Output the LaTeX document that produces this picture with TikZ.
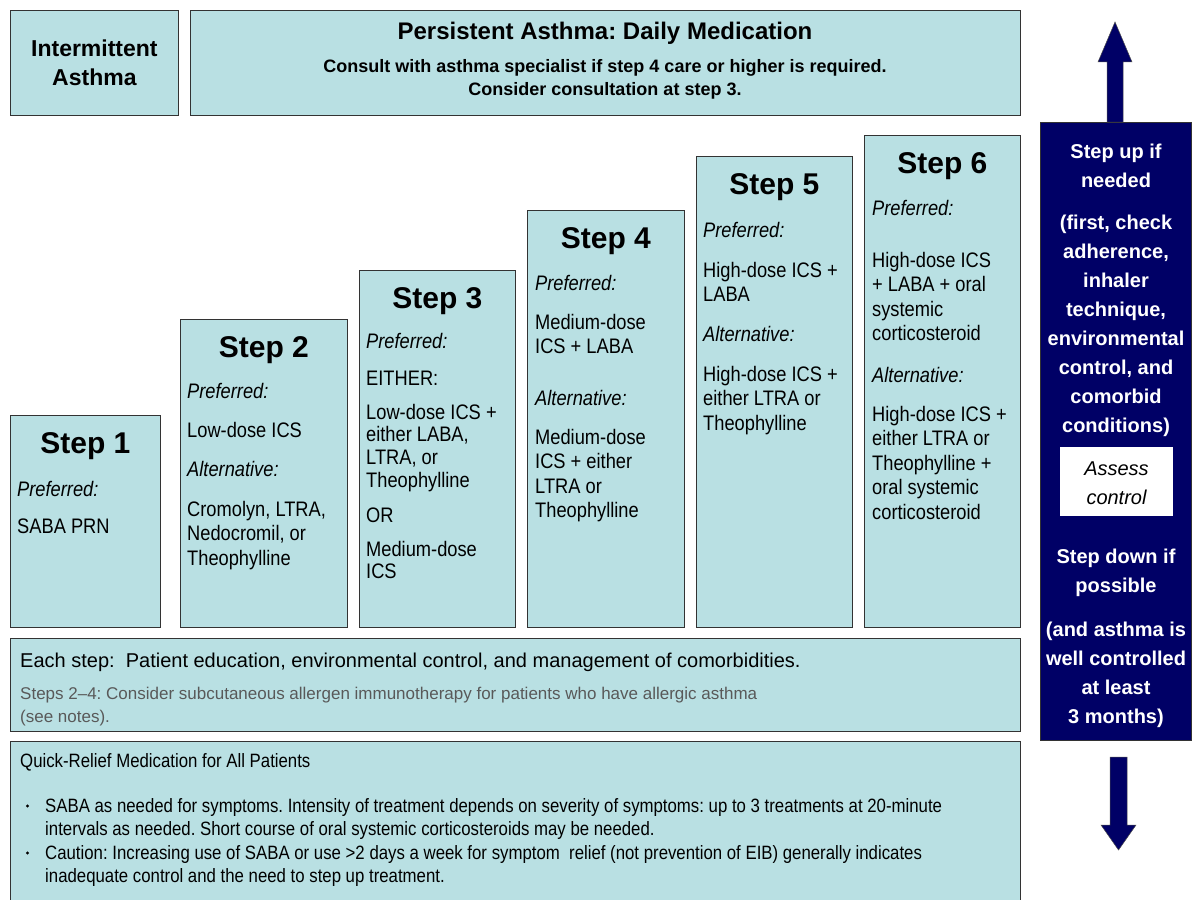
\documentclass[tikz,border=0pt]{standalone}
\usepackage{fontspec}
\setmainfont{Liberation Sans}
\newfontfamily\narrow[FakeStretch=0.87]{Liberation Sans}
\usepackage{tikz}
\frenchspacing
\definecolor{boxblue}{HTML}{B9E0E3}
\definecolor{navy}{HTML}{000066}
% lines stacked with the first baseline as the node's base
\newcommand{\leftlines}[1]{\vtop{\def\\{\cr}\halign{##\hfil\cr#1\crcr}}}
\newcommand{\midlines}[1]{\vtop{\def\\{\cr}\halign{\hfil##\hfil\cr#1\crcr}}}
\tikzstyle{stepbox}=[draw=black!80,fill=boxblue,line width=0.8pt,anchor=north west,inner sep=0pt]
\tikzstyle{navybox}=[draw=black!80,fill=navy,line width=0.8pt,anchor=north west,inner sep=0pt]
\tikzstyle{steptitle}=[font=\fontsize{30}{34}\selectfont\bfseries,anchor=base,inner sep=0pt]
\tikzstyle{body}=[font=\narrow\fontsize{21}{24.5}\selectfont,anchor=base west,inner sep=0pt]
\tikzstyle{pref}=[font=\narrow\itshape\fontsize{21}{24.5}\selectfont,anchor=base west,inner sep=0pt]
\tikzstyle{quicktxt}=[font=\narrow\fontsize{19.3}{23.5}\selectfont,anchor=base west,inner sep=0pt]
\tikzstyle{bulletdot}=[circle,fill=black,inner sep=0pt,minimum size=3.2pt]
\tikzstyle{ctltxt}=[font=\fontsize{20}{29}\selectfont\bfseries,text=white,anchor=base,inner sep=0pt]

\begin{document}
\begin{tikzpicture}[x=1pt,y=-1pt]
    \useasboundingbox (0,0) rectangle (1193,899);
    % header boxes
    \node[stepbox,minimum width=168,minimum height=105] (inter) at (10,10) {};
    \node[stepbox,minimum width=830,minimum height=105] (pers) at (190,10) {};
    \node[font=\fontsize{23}{29}\selectfont\bfseries,align=center] (intertxt) at (inter.center) {Intermittent\\Asthma};
    \node[font=\fontsize{24}{28}\selectfont\bfseries,anchor=base,inner sep=0pt] (perstitle) at (605,40) {Persistent Asthma: Daily Medication};
    \node[font=\fontsize{18}{24}\selectfont\bfseries,anchor=base,inner sep=0pt] (perssub) at (605,72)
        {\midlines{Consult with asthma specialist if step 4 care or higher is required.\\Consider consultation at step 3.}};

    % the six steps
    \foreach \n/\x/\y/\w in {1/10/415/150,2/180/319/167,3/359/270/156,4/527/210/157,5/696/156/156,6/864/135/156}
    {
        \node[stepbox,minimum width=\w,minimum height=627-\y] (s\n) at (\x,\y) {};
        \node[steptitle] (t\n) at ([yshift=-38.5pt]s\n.north) {Step \n};
    }

    % step 1
    \node[pref] (p1) at (17,496) {Preferred:};
    \node[body] (p1a) at (17,533) {SABA PRN};
    % step 2
    \node[pref] (p2) at (187,398) {Preferred:};
    \node[body] (p2a) at (187,437) {Low-dose ICS};
    \node[pref] (a2) at (187,476) {Alternative:};
    \node[body] (a2a) at (187,516) {\leftlines{Cromolyn, LTRA,\\Nedocromil, or\\Theophylline}};
    % step 3
    \node[pref] (p3) at (366,348) {Preferred:};
    \node[body] (p3a) at (366,385) {EITHER:};
    \node[body,font=\narrow\fontsize{21}{22.8}\selectfont] (p3b) at (366,419) {\leftlines{Low-dose ICS +\\either LABA,\\LTRA, or\\Theophylline}};
    \node[body] (p3c) at (366,522) {OR};
    \node[body,font=\narrow\fontsize{21}{22.8}\selectfont] (p3d) at (366,556) {\leftlines{Medium-dose\\ICS}};
    % step 4
    \node[pref] (p4) at (535,290) {Preferred:};
    \node[body] (p4a) at (535,329) {\leftlines{Medium-dose\\ICS + LABA}};
    \node[pref] (a4) at (535,405) {Alternative:};
    \node[body] (a4a) at (535,444) {\leftlines{Medium-dose\\ICS + either\\LTRA or\\Theophylline}};
    % step 5
    \node[pref] (p5) at (703,237) {Preferred:};
    \node[body] (p5a) at (703,277) {\leftlines{High-dose ICS +\\LABA}};
    \node[pref] (a5) at (703,341) {Alternative:};
    \node[body] (a5a) at (703,381) {\leftlines{High-dose ICS +\\either LTRA or\\Theophylline}};
    % step 6
    \node[pref] (p6) at (872,215) {Preferred:};
    \node[body] (p6a) at (872,267) {\leftlines{High-dose ICS\\+ LABA + oral\\systemic\\corticosteroid}};
    \node[pref] (a6) at (872,382) {Alternative:};
    \node[body] (a6a) at (872,421) {\leftlines{High-dose ICS +\\either LTRA or\\Theophylline +\\oral systemic\\corticosteroid}};

    % bottom boxes
    \node[stepbox,minimum width=1010,minimum height=93] (each) at (10,638) {};
    \node[body,font=\fontsize{20}{24}\selectfont] (eachtxt) at (20,667) {Each step:\ \ Patient education, environmental control, and management of comorbidities.};
    \node[body,font=\fontsize{17}{23}\selectfont,text=black!65] (immuno) at (20,699)
        {\leftlines{Steps 2--4: Consider subcutaneous allergen immunotherapy for patients who have allergic asthma\\(see notes).}};
    \node[stepbox,minimum width=1010,minimum height=162] (quick) at (10,741) {};
    \node[quicktxt] (quicktitle) at (20,767) {Quick-Relief Medication for All Patients};
    \node[bulletdot] (b1) at (27.5,806) {};
    \node[quicktxt] (q1) at (45,812)
        {\leftlines{SABA as needed for symptoms. Intensity of treatment depends on severity of symptoms: up to 3 treatments at 20-minute\\intervals as needed. Short course of oral systemic corticosteroids may be needed.}};
    \node[bulletdot] (b2) at (27.5,853) {};
    \node[quicktxt] (q2) at (45,859)
        {\leftlines{Caution: Increasing use of SABA or use >2 days a week for symptom\ \ relief (not prevention of EIB) generally indicates\\inadequate control and the need to step up treatment.}};

    % control column and arrows
    \node[navybox,minimum width=151,minimum height=618] (ctl) at (1040,122) {};
    \fill[navy,draw=black!70,line width=0.5pt] (1115,22) -- (1132,62) -- (1123,62) -- (1123,122) -- (1107,122) -- (1107,62) -- (1098,62) -- cycle;
    \fill[navy,draw=black!70,line width=0.5pt] (1110,757) -- (1127,757) -- (1127,825) -- (1136,825) -- (1118.5,850) -- (1101,825) -- (1110,825) -- cycle;
    \node[ctltxt] (up) at (1116,158) {\midlines{Step up if\\needed}};
    \node[ctltxt] (upnote) at (1116,229) {\midlines{(first, check\\adherence,\\inhaler\\technique,\\environmental\\control, and\\comorbid\\conditions)}};
    \node[fill=white,minimum width=113,minimum height=69,anchor=north west,inner sep=0pt] (assess) at (1060,447) {};
    \node[ctltxt,text=black,font=\fontsize{20}{29}\selectfont\itshape] (assesstxt) at (1116.5,475) {\midlines{Assess\\control}};
    \node[ctltxt] (down) at (1116,563) {\midlines{Step down if\\possible}};
    \node[ctltxt] (downnote) at (1116,636) {\midlines{(and asthma is\\well controlled\\at least\\3 months)}};
\end{tikzpicture}
\end{document}
